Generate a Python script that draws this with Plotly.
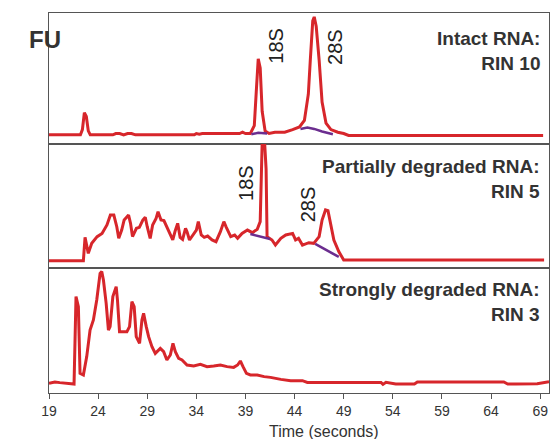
import plotly.graph_objects as go
from plotly.subplots import make_subplots

# time axis ticks
tick_vals = [19, 24, 29, 34, 39, 44, 49, 54, 59, 64, 69]

# intact RNA trace (RIN 10)
intact_t = [19, 22.2, 22.4, 22.6, 22.8, 23.0, 23.2, 25.5, 25.8, 26.2, 26.6, 27.0, 27.4, 27.8,
            28.2, 33.8, 34.0, 34.3, 34.6, 38.4, 38.7, 39.0, 39.5, 39.9, 40.1, 40.3, 40.5,
            40.7, 41.0, 41.4, 42.0, 43.0, 43.8, 44.5, 45.0, 45.4, 45.6, 45.85, 46.0, 46.2,
            46.5, 46.8, 47.2, 47.7, 48.4, 49.0, 49.5, 69.3]
intact_fu = [7, 7, 11, 24, 21, 10, 7, 7, 8, 8, 7, 8, 8, 7,
             7, 7, 8, 7.5, 8, 8, 9, 8, 8, 14, 40, 65, 58,
             25, 10, 8, 9, 9, 11, 13, 18, 38, 64, 94, 97, 90,
             64, 32, 16, 11, 9, 8, 6.5, 6.5]
intact_base_18s_t = [39.6, 40.3, 41.2]
intact_base_18s_fu = [7.5, 8.5, 8]
intact_base_28s_t = [44.6, 45.3, 46.0, 46.8, 47.9]
intact_base_28s_fu = [11.5, 12.5, 11.5, 9.5, 7.5]

# partially degraded RNA trace (RIN 5)
partial_t = [19, 22.5, 22.67, 23.0, 23.35, 23.9, 24.4, 24.9, 25.25, 25.6, 25.9, 26.1, 26.4,
             26.65, 26.9, 27.1, 27.3, 27.5, 27.9, 28.2, 28.55, 28.8, 29.0, 29.3, 29.55, 29.9,
             30.1, 30.4, 30.7, 31.0, 31.35, 31.6, 31.85, 32.1, 32.35, 32.6, 32.9, 33.05, 33.3,
             33.65, 34.0, 34.2, 34.5, 34.8, 35.15, 35.6, 36.0, 36.45, 36.8, 37.05, 37.5, 37.9,
             38.2, 38.65, 39.2, 39.7, 40.2, 40.5, 40.7, 40.95, 41.1, 41.2, 41.7, 42.05, 42.6,
             43.1, 43.8, 44.1, 44.4, 44.8, 45.45, 45.95, 46.5, 46.8, 47.15, 47.4, 47.7, 48.0,
             48.5, 49.0, 69.4]
partial_fu = [5.9, 5.9, 24.7, 11.8, 19.9, 25.3, 27.9, 34.7, 42.7, 42.7, 33.3, 23.9, 30.6,
              38.7, 40.9, 42.7, 36, 25.3, 32, 32.8, 38.7, 40.9, 33.3, 23.9, 34.7, 40,
              45.4, 38.7, 38.2, 32.8, 26.6, 22.6, 30.1, 36, 24.7, 23.1, 32, 29.3, 22.6,
              26.6, 30.6, 37.4, 26.6, 24.7, 25.8, 22.6, 21.2, 29.3, 37.4, 32.8, 25.3, 26.6,
              23.9, 27.9, 30.6, 28.5, 31.2, 37.4, 101, 101, 80, 25.3, 22.6, 18.5, 23.9,
              26.6, 27.9, 22.6, 23.9, 18.5, 20.4, 19.9, 25.3, 38.7, 46.8, 46.2, 33.3, 22.6,
              13.2, 6.5, 6.5]
partial_base_18s_t = [39.5, 40.5, 41.5]
partial_base_18s_fu = [27.4, 25.6, 23.4]
partial_base_28s_t = [46.1, 47.3, 48.5]
partial_base_28s_fu = [19.4, 14.3, 8.9]

# strongly degraded RNA trace (RIN 3)
strong_t = [19.0, 19.6, 20.1, 21.55, 21.75, 21.99, 22.16, 22.5, 22.84, 23.18, 23.52, 23.86,
            24.2, 24.37, 24.54, 24.82, 25.05, 25.22, 25.5, 25.84, 25.97, 26.18, 26.93, 27.2,
            27.44, 27.67, 27.88, 28.22, 28.46, 28.63, 28.9, 29.14, 29.48, 29.82, 30.33, 30.67,
            31.0, 31.35, 31.62, 31.86, 32.2, 32.54, 33.05, 33.73, 34.41, 35.09, 35.77, 36.45,
            37.13, 37.8, 38.2, 38.48, 38.75, 39.1, 39.5, 40.2, 40.9, 41.55, 42.6, 43.6, 44.8,
            45.3, 52.8, 53.0, 53.3, 54.3, 56.2, 56.5, 65.3, 65.7, 66.5, 68.7, 69.9]
strong_fu = [7.7, 8.8, 8.3, 7.2, 77.1, 69.1, 15.7, 14.4, 29.1, 50.4, 58.4, 74.4,
             95.7, 97.1, 90.4, 71.7, 50.4, 53.1, 77.1, 85.1, 74.4, 49.1, 49.1, 53.1,
             73.1, 69.1, 45.1, 39.7, 58.4, 63.7, 53.1, 45.1, 37.1, 31.7, 35.7, 33.1,
             26.4, 30.4, 39.7, 33.1, 27.7, 26.4, 22.4, 21.6, 22.9, 21.1, 21.6, 22.4,
             21.1, 20.5, 22.4, 25.6, 21.1, 15.7, 14.4, 14.4, 13.1, 12.5, 10.9, 9.9, 9.9,
             8.5, 8.5, 6.9, 8.5, 7.2, 7.2, 8.8, 8.8, 7.2, 7.2, 7.5, 9]

panel_labels = ["Intact RNA:<br>RIN 10", "Partially degraded RNA:<br>RIN 5",
                "Strongly degraded RNA:<br>RIN 3"]

RED = "#d7262b"
PURPLE = "#6b2d8f"
SANS = "Liberation Sans, Arial"

fig = make_subplots(rows=3, cols=1, shared_xaxes=True, vertical_spacing=0,
                    row_heights=[131, 124, 125])

traces = [(intact_t, intact_fu), (partial_t, partial_fu), (strong_t, strong_fu)]
for i, (t, fu) in enumerate(traces):
    fig.add_trace(go.Scatter(x=t, y=fu, mode="lines",
                             line=dict(color=RED, width=3)), row=i + 1, col=1)

bases = [(1, intact_base_18s_t, intact_base_18s_fu), (1, intact_base_28s_t, intact_base_28s_fu),
         (2, partial_base_18s_t, partial_base_18s_fu), (2, partial_base_28s_t, partial_base_28s_fu)]
for r, t, fu in bases:
    fig.add_trace(go.Scatter(x=t, y=fu, mode="lines", line=dict(color=PURPLE, width=2.5)),
                  row=r, col=1)

for i in range(3):
    fig.update_xaxes(range=[19, 69.9], showline=True, mirror=True, linecolor="#555",
                     linewidth=1, showgrid=False, zeroline=False, row=i + 1, col=1)
    fig.update_yaxes(range=[0, 100], showline=True, mirror=True, linecolor="#555",
                     linewidth=1, showgrid=False, zeroline=False, showticklabels=False,
                     row=i + 1, col=1)

fig.update_xaxes(tickvals=tick_vals, ticks="outside", ticklen=5, tickcolor="#555",
                 tickfont=dict(family=SANS, size=14, color="#333"),
                 row=3, col=1)

yrefs = ["y domain", "y2 domain", "y3 domain"]
label_y = [0.71, 0.72, 0.725]
for i, txt in enumerate(panel_labels):
    fig.add_annotation(text="<b>" + txt + "</b>",
                       xref="x domain" if i == 0 else "x%d domain" % (i + 1),
                       yref=yrefs[i], x=0.986, y=label_y[i], xanchor="right",
                       yanchor="middle", align="right", showarrow=False,
                       font=dict(family=SANS, size=19, color="#333"))

# rRNA peak labels
peak_labels = [("18S", "x", "y", 42.1, 75), ("28S", "x", "y", 48.1, 74),
               ("18S", "x2", "y2", 39.1, 69), ("28S", "x2", "y2", 45.4, 51.6)]
for txt, xr, yr, px, py in peak_labels:
    fig.add_annotation(text=txt, xref=xr, yref=yr, x=px, y=py, textangle=-90,
                       showarrow=False, font=dict(family=SANS, size=20, color="#222"))

fig.add_annotation(text="<b>FU</b>", xref="paper", yref="paper", x=-0.044, y=0.972,
                   showarrow=False, font=dict(family=SANS, size=24, color="#333"))
fig.add_annotation(text="Time (seconds)", xref="paper", yref="paper", x=0.55, y=-0.1,
                   yanchor="middle", showarrow=False,
                   font=dict(family=SANS, size=16, color="#333"))

fig.update_layout(width=552, height=439, margin=dict(l=49, r=3, t=13, b=46),
                  plot_bgcolor="white", paper_bgcolor="white", showlegend=False)

fig.write_html("out.html", config={"displayModeBar": False},
               post_script="document.body.style.margin='0';")
